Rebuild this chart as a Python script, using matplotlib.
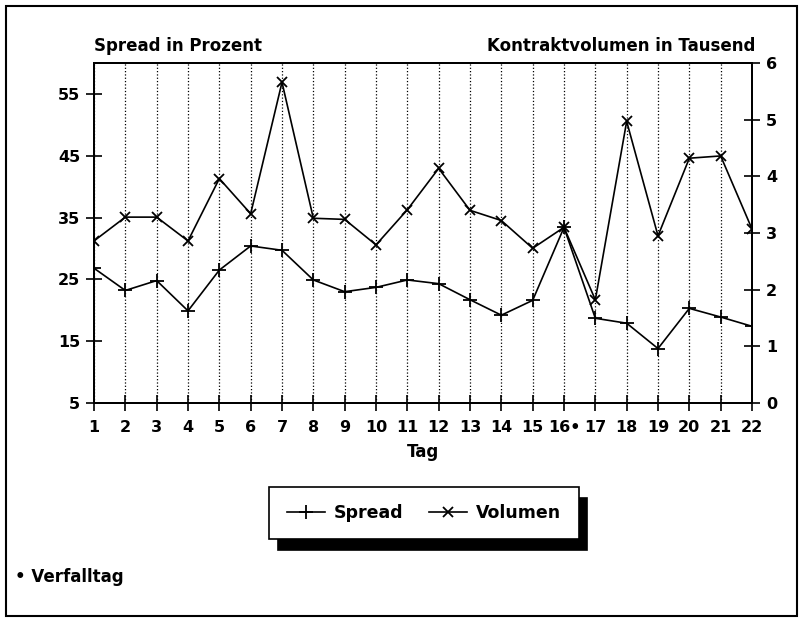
import matplotlib.pyplot as plt
from matplotlib.patches import Rectangle

plt.rcParams['font.family'] = ['DejaVu Sans']
plt.rcParams['font.weight'] = 'bold'

# Tage
tage = list(range(1, 23))
tag_labels = [str(t) for t in tage]
tag_labels[15] = '16•'

# Spread in Prozent (linke Achse)
spread = [26.8, 23.2, 24.8, 19.9, 26.5, 30.4, 29.7, 24.9, 23.0, 23.7, 24.9,
          24.3, 21.7, 19.2, 21.6, 33.4, 18.7, 17.9, 13.8, 20.3, 18.9, 17.4]

# Kontraktvolumen in Tausend (rechte Achse)
volumen = [2.86, 3.28, 3.28, 2.86, 3.96, 3.34, 5.66, 3.26, 3.24, 2.79, 3.41,
           4.14, 3.40, 3.22, 2.73, 3.10, 1.82, 4.97, 2.95, 4.32, 4.36, 3.07]

links_ticks = [5, 15, 25, 35, 45, 55]
rechts_ticks = [0, 1, 2, 3, 4, 5, 6]

fig = plt.figure(figsize=(8, 6.18), dpi=100)
ax = fig.add_axes([0.1175, 0.348, 0.8225, 0.55])
ax2 = ax.twinx()

l1, = ax.plot(tage, spread, color='black', lw=1.2, marker='+', ms=10, mew=1.3,
              label='Spread')
l2, = ax2.plot(tage, volumen, color='black', lw=1.2, marker='x', ms=6.5, mew=1.3,
               label='Volumen')

ax.set_xlim(1, 22)
ax.set_ylim(5, 60)
ax2.set_ylim(0, 6)
ax.set_xticks(tage)
ax.set_xticklabels(tag_labels)
ax.set_yticks(links_ticks)
ax2.set_yticks(rechts_ticks)

ax.xaxis.grid(True, linestyle=':', color='black', lw=0.9)
for a in (ax, ax2):
    a.tick_params(direction='inout', length=12, width=1.2, labelsize=11.5,
                  colors='black', pad=4)
    for s in a.spines.values():
        s.set_linewidth(1.4)
ax.tick_params(axis='x', pad=6)

ax.set_xlabel('Tag', fontsize=12, fontweight='bold', labelpad=6)

fig.text(94 / 800, 1 - 46 / 618, 'Spread in Prozent', fontsize=12,
         fontweight='bold', ha='left', va='center')
fig.text(755 / 800, 1 - 46 / 618, 'Kontraktvolumen in Tausend', fontsize=12,
         fontweight='bold', ha='right', va='center')

leg = fig.legend([l1, l2], ['Spread', 'Volumen'], loc='center',
                 bbox_to_anchor=(0.53, 0.17), ncol=2, fancybox=False,
                 edgecolor='black', framealpha=1, fontsize=12.5,
                 handlelength=2.2, handletextpad=0.5, borderpad=1.0,
                 columnspacing=1.5,
                 shadow={'color': 'black', 'alpha': 1, 'ox': 6, 'oy': -8})
leg.get_frame().set_linewidth(1.2)

fig.text(15 / 800, 1 - 577 / 618, '• Verfalltag', fontsize=12,
         fontweight='bold', ha='left', va='center')

fig.patches.append(Rectangle((0.008, 0.003), 0.988, 0.988, transform=fig.transFigure,
                             fill=False, edgecolor='black', lw=1.5))

fig.savefig('out.png', dpi=100)
